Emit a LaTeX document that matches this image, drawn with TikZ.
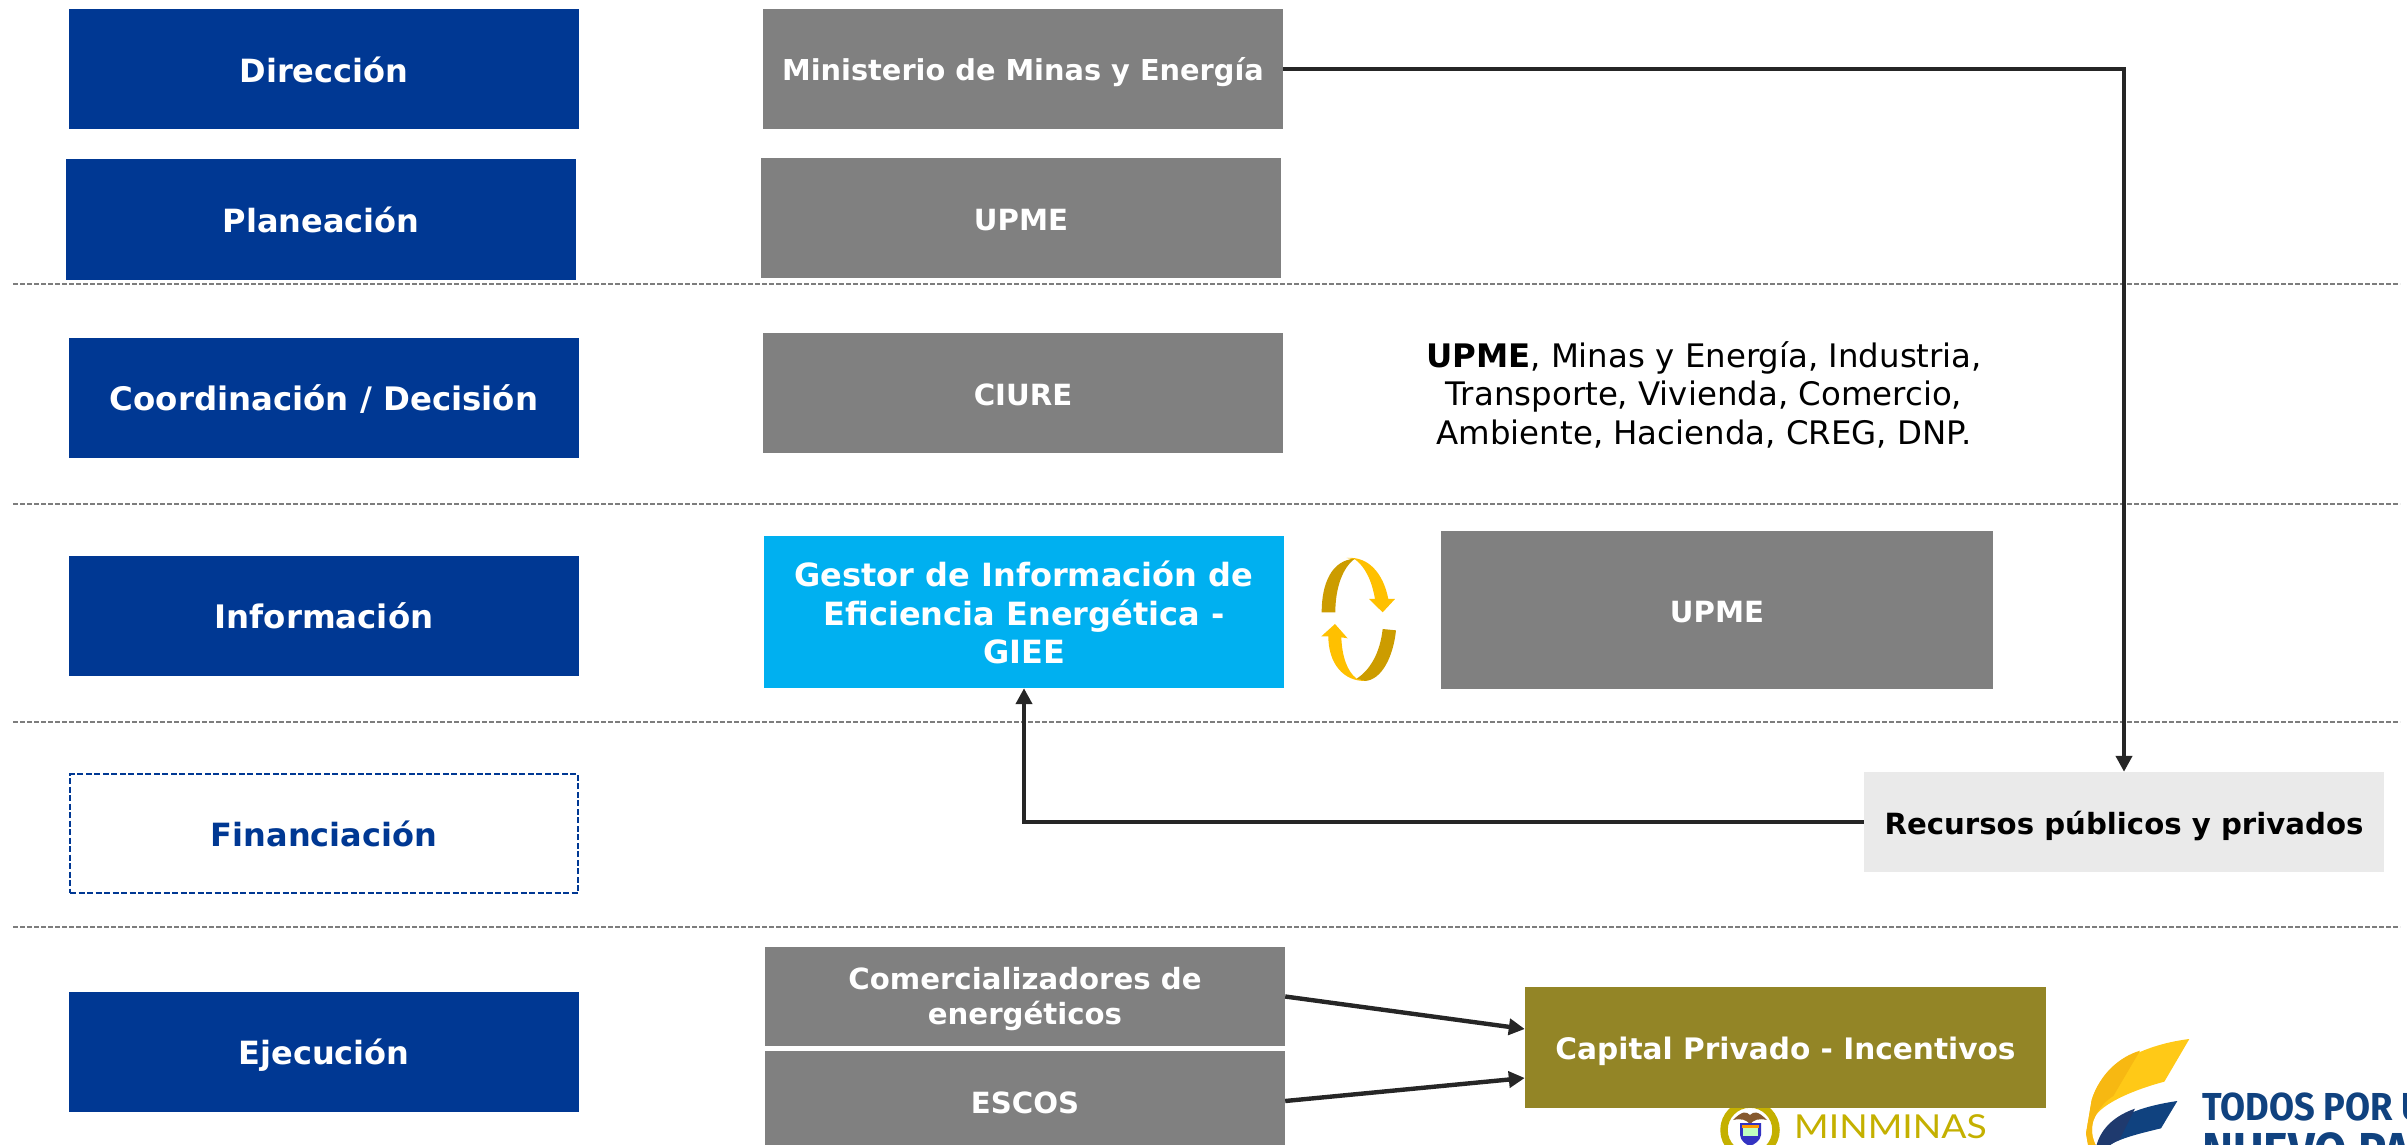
\documentclass[tikz,border=0pt]{standalone}
\usepackage{fontspec}
\setmainfont{DejaVu Sans}
\newfontfamily\firalogo{Fira Sans}
\newfontfamily\latologo{Lato}
\usetikzlibrary{arrows.meta,calc}
\definecolor{navy}{HTML}{003893}
\definecolor{midgray}{HTML}{808080}
\definecolor{skyb}{HTML}{00B0F0}
\definecolor{olivebox}{HTML}{938526}
\definecolor{palegray}{HTML}{EAEAEA}
\definecolor{wire}{HTML}{262626}
\definecolor{arrowlight}{HTML}{FFC000}
\definecolor{arrowdark}{HTML}{CC9C00}
\definecolor{flagyel}{HTML}{FFC917}
\definecolor{flagyeld}{HTML}{F7B812}
\definecolor{flagblue}{HTML}{10427F}
\definecolor{flagblued}{HTML}{1F3A6E}
\definecolor{minolive}{HTML}{C4B000}
\newcommand{\strutup}{\rule{0pt}{1.08em}}
\newcommand{\strutdown}{\rule[-0.25em]{0pt}{0.25em}}
\tikzset{
  base/.style={inner sep=0pt,align=center,text=white,font=\fontsize{29.2}{38}\selectfont\bfseries,
    execute at begin node=\strutup, execute at end node=\strutdown},
  levelbox/.style={base,fill=navy,minimum width=510pt,minimum height=120pt,font=\fontsize{32.4}{38}\selectfont\bfseries},
  levelopen/.style={base,draw=navy,line width=2pt,dash pattern=on 6pt off 2.5pt,text=navy,minimum width=508pt,minimum height=119pt,font=\fontsize{32}{38}\selectfont\bfseries},
  actor/.style={base,fill=midgray,minimum width=519pt,minimum height=120pt},
  link/.style={draw=wire,line width=4.4pt,-{Triangle[length=16pt,width=16pt]}},
  sep/.style={draw=midgray!98!black,line width=2pt,dash pattern=on 5pt off 2pt}
}
\begin{document}
\begin{tikzpicture}[x=1pt,y=-1pt]
\useasboundingbox (0,0) rectangle (2407,1145);
\clip (0,0) rectangle (2407,1145);
% separators
\draw[sep] (13,284) -- (2400,284);
\draw[sep] (13,503.5) -- (2400,503.5);
\draw[sep] (13,721.5) -- (2400,721.5);
\draw[sep] (13,927) -- (2400,927);
% level boxes
\node[levelbox,font=\fontsize{32}{38}\selectfont\bfseries] (dir) at (324,69) {Dirección};
\node[levelbox,font=\fontsize{32}{38}\selectfont\bfseries] (pla) at (321,219.5) {Planeación};
\node[levelbox] (coo) at (324,397.5) {Coordinación / Decisión};
\node[levelbox] (inf) at (324,615.5) {Información};
\node[levelopen] (fin) at (324,833.5) {Financiación};
\node[levelbox,font=\fontsize{32}{38}\selectfont\bfseries] (eje) at (324,1051.5) {Ejecución};
% actors
\node[actor,minimum width=520pt,font=\fontsize{28.8}{38}\selectfont\bfseries] (min) at (1023,69) {Ministerio de Minas y Energía};
\node[actor,minimum width=520pt] (upa) at (1021,218) {UPME};
\node[actor,minimum width=520pt] (ciu) at (1023,393) {CIURE};
\node[actor,fill=skyb,minimum height=152pt,minimum width=520pt,label={[base,font=\fontsize{32}{38.5}\selectfont\bfseries,yshift=-4.6pt]center:{Gestor de Información de\\Eficiencia Energética -\\GIEE}}] (gie) at (1024,612) {};
\node[actor,minimum width=552pt,minimum height=158pt] (upb) at (1717,610) {UPME};
\node[actor,fill=palegray,text=black,minimum width=520pt,minimum height=100pt] (rec) at (2124,822) {Recursos públicos y privados};
\node[actor,minimum width=520pt,minimum height=99pt,label={[base,font=\fontsize{29.2}{35.5}\selectfont\bfseries,yshift=-3pt]center:{Comercializadores de\\energéticos}}] (com) at (1025,996.5) {};
\node[actor,minimum width=520pt,minimum height=100pt] (esc) at (1025,1101) {ESCOS};
% minminas logo
\node[circle,draw=minolive,line width=7.5pt,minimum size=52pt,inner sep=0pt] (ring) at (1750,1130) {};
\fill[brown!70!black] (1733,1120) .. controls (1742,1111) and (1746,1111) .. (1750,1115) .. controls (1754,1111) and (1758,1111) .. (1767,1120) .. controls (1758,1118) and (1754,1120) .. (1750,1124) .. controls (1746,1120) and (1742,1118) .. (1733,1120) -- cycle;
\fill[blue!70!black!80] (1740,1123) -- (1761,1123) -- (1761,1135) .. controls (1760,1141) and (1755,1144) .. (1750,1146) .. controls (1745,1144) and (1741,1141) .. (1740,1135) -- cycle;
\fill[orange!80!yellow] (1742,1125) rectangle (1759,1128);
\fill[green!25!white] (1743,1128) rectangle (1758,1136);
\node[inner sep=0pt,anchor=base west,text=minolive,font=\fontsize{33}{33}\latologo,xscale=1.13] (mintxt) at (1794,1138) {MINMINAS};
% capital
\node[actor,fill=olivebox,minimum width=521pt,minimum height=121pt,font=\fontsize{29.6}{38}\selectfont\bfseries] (cap) at (1785.5,1047.5) {Capital Privado - Incentivos};
% free text
\node[inner sep=0pt,align=center,font=\fontsize{32.4}{38.5}\selectfont] (mem) at (1704,394.5) {\textbf{UPME}, Minas y Energía, Industria,\\Transporte, Vivienda, Comercio,\\Ambiente, Hacienda, CREG, DNP.};
% connectors
\coordinate (turna) at (rec.north |- min.east);
\coordinate (turnb) at (gie.south |- rec.west);
\draw[link] (min.east) -- (turna) -- (rec.north);
\draw[link] (rec.west) -- (turnb) -- (gie.south);
\draw[link] (com.east) -- ($(cap.west)+(0,-18.5)$);
\draw[link] (esc.east) -- ($(cap.west)+(0,30.5)$);
% cycle arrows
\begin{scope}[shift={(1240,520)},x=0.3333pt,y=-0.3333pt]
\fill[arrowlight] (320,114) .. controls (385,108) and (430,160) .. (445,237) -- (465,237) -- (428,277) -- (387,237) -- (405,237) .. controls (395,180) and (375,140) .. (345,118) -- cycle;
\fill[arrowdark] (245,277) .. controls (245,190) and (275,120) .. (345,116) .. controls (310,140) and (286,200) .. (286,277) -- cycle;
\fill[arrowlight] (285,312) -- (323,355) -- (304,352) .. controls (306,410) and (322,455) .. (350,476) -- (378,483) .. controls (310,485) and (265,430) .. (265,349) -- (244,349) -- cycle;
\fill[arrowdark] (428,327) -- (468,331) .. controls (460,410) and (425,480) .. (375,483) -- (350,476) .. controls (390,450) and (420,400) .. (428,327) -- cycle;
\end{scope}
% flag logo
\begin{scope}[shift={(2060,1020)},x=0.3333pt,y=-0.3333pt]
\fill[flagyel] (388,57) .. controls (280,70) and (130,120) .. (95,240) -- (78,340) -- (85,380) -- (110,380) .. controls (85,340) and (100,300) .. (103,295) .. controls (115,260) and (200,215) .. (313,185) -- cycle;
\fill[flagyeld] (240,92) .. controls (180,110) and (120,160) .. (95,240) -- (78,340) -- (85,380) -- (110,380) .. controls (85,340) and (100,300) .. (103,295) .. controls (115,265) and (140,240) .. (160,228) -- cycle;
\fill[flagblue] (352,243) .. controls (250,258) and (140,290) .. (110,375) -- (150,375) .. controls (180,355) and (240,340) .. (303,325) -- cycle;
\fill[flagblued] (225,266) .. controls (170,285) and (125,320) .. (110,375) -- (150,375) .. controls (160,368) and (170,363) .. (178,360) -- cycle;
\end{scope}
\node[inner sep=0pt,anchor=base west,text=flagblue,font=\fontsize{39}{40}\firalogo\bfseries,xscale=0.93] (todos) at (2202,1120) {TODOS POR UN};
\node[inner sep=0pt,anchor=base west,text=flagblue,font=\fontsize{52}{52}\firalogo\bfseries,xscale=0.9] (nuevo) at (2202,1169) {NUEVO PAÍS};
\end{tikzpicture}
\end{document}
